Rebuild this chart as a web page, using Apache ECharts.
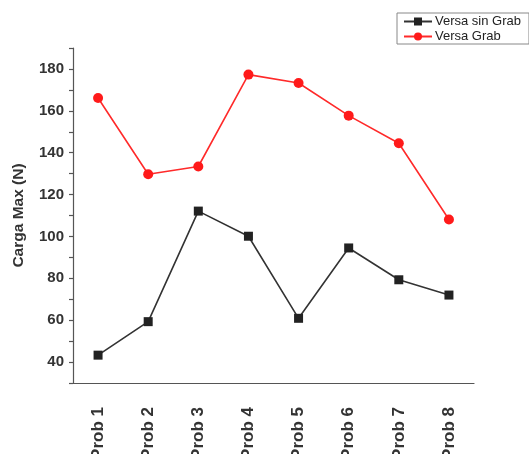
<!DOCTYPE html>
<html>
<head>
<meta charset="utf-8">
<script src="https://cdn.jsdelivr.net/npm/echarts@6/dist/echarts.min.js"></script>
<style>
  html, body { margin: 0; padding: 0; background: #fff; }
  #chart { width: 529px; height: 454px; }
</style>
</head>
<body>
<div id="chart"></div>
<script>
// Maximum load per specimen, with and without engraving
const categories = ['Prob 1', 'Prob 2', 'Prob 3', 'Prob 4', 'Prob 5', 'Prob 6', 'Prob 7', 'Prob 8'];
const versaSinGrab = [43.3, 59.3, 112.1, 100.1, 60.9, 94.5, 79.3, 72.0];
const versaGrab = [166.1, 129.7, 133.4, 177.3, 173.3, 157.7, 144.5, 108.1];
const seriesNames = ['Versa sin Grab', 'Versa Grab'];
const yTitle = 'Carga Max (N)';
const yLabelValues = [40, 60, 80, 100, 120, 140, 160, 180];

const font = 'Arial, "Liberation Sans", sans-serif';
const chart = echarts.init(document.getElementById('chart'), null, { renderer: 'canvas' });

chart.setOption({
  animation: false,
  backgroundColor: '#ffffff',
  grid: { left: 73, right: 55, top: 48, bottom: 71, containLabel: false, outerBoundsMode: 'none' },
  legend: {
    left: 397, top: 13,
    orient: 'vertical',
    itemWidth: 28, itemHeight: 10, itemGap: 2,
    padding: [2, 8, 1, 6],
    borderColor: '#888', borderWidth: 1,
    textStyle: { fontFamily: font, fontSize: 13, color: '#222', padding: [0, 0, 0, -2] },
    data: seriesNames
  },
  xAxis: [
    {
      type: 'category',
      data: categories,
      boundaryGap: true,
      axisLine: { lineStyle: { color: '#555', width: 1.2 } },
      axisTick: { alignWithLabel: true, length: 5, lineStyle: { color: '#555', width: 1.2 } },
      axisLabel: {
        rotate: 90, margin: 24,
        fontFamily: font, fontSize: 17, fontWeight: 'bold', color: '#333'
      },
      splitLine: { show: false }
    },
    {
      // band-boundary ticks
      type: 'category',
      data: categories,
      boundaryGap: true,
      position: 'bottom',
      axisLine: { show: false },
      axisTick: { alignWithLabel: false, length: 3, lineStyle: { color: '#555', width: 1 } },
      axisLabel: { show: false },
      splitLine: { show: false }
    }
  ],
  yAxis: {
    type: 'value',
    min: 30, max: 190, interval: 10,
    name: yTitle,
    nameLocation: 'middle',
    nameGap: 46,
    nameTextStyle: { fontFamily: font, fontSize: 15.5, fontWeight: 'bold', color: '#333' },
    axisLine: { show: true, lineStyle: { color: '#555', width: 1.2 } },
    axisTick: { show: true, length: 4, lineStyle: { color: '#555', width: 1.2 } },
    axisLabel: {
      margin: 9,
      fontFamily: font, fontSize: 15, fontWeight: 'bold', color: '#333',
      formatter: v => (yLabelValues.indexOf(v) >= 0 ? String(v) : '')
    },
    splitLine: { show: false }
  },
  series: [
    {
      name: seriesNames[0],
      type: 'line',
      data: versaSinGrab,
      symbol: 'rect', symbolSize: 9,
      itemStyle: { color: '#222222' },
      lineStyle: { color: '#333333', width: 1.6 },
      z: 3
    },
    {
      name: seriesNames[1],
      type: 'line',
      data: versaGrab,
      symbol: 'circle', symbolSize: 10,
      itemStyle: { color: '#ff1a1a' },
      lineStyle: { color: '#ff2a2a', width: 1.6 },
      z: 3
    }
  ]
});
</script>
</body>
</html>
